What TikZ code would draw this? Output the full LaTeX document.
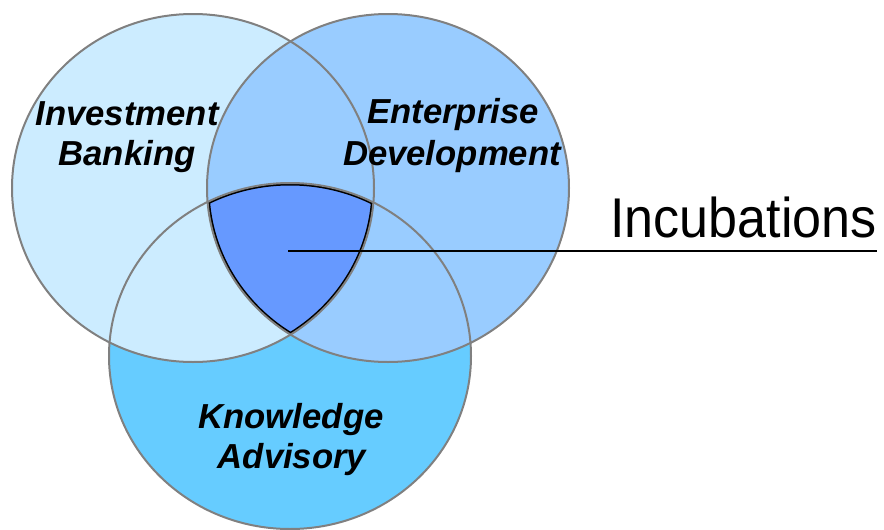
\documentclass[tikz,border=0pt]{standalone}
\usepackage{fontspec}
\setmainfont{Liberation Sans}
\newfontfamily\incfont[FakeStretch=0.93]{Liberation Sans}
\definecolor{cIB}{HTML}{CCECFF}
\definecolor{cED}{HTML}{99CCFF}
\definecolor{cKA}{HTML}{66CCFF}
\definecolor{cInc}{HTML}{6699FF}
\definecolor{rim}{HTML}{808080}
\tikzset{
  rimline/.style={draw=rim, line width=2pt},
  setlabel/.style={anchor=base, inner sep=0pt, font=\fontsize{34.7}{40}\selectfont\bfseries\itshape},
  biglabel/.style={anchor=base west, inner sep=0pt, font=\incfont\fontsize{56}{56}\selectfont},
}
\begin{document}
\begin{tikzpicture}[x=1pt,y=-1pt]
\useasboundingbox (0,0) rectangle (884,530);
\def\cIBpath{(193,188) ellipse [x radius=181pt, y radius=174pt]}
\def\cEDpath{(388,188) ellipse [x radius=181pt, y radius=174pt]}
\def\cKApath{(290,356) ellipse [x radius=181pt, y radius=173pt]}
% fills
\fill[cKA] \cKApath;
\fill[cIB] \cIBpath;
\fill[cED] \cEDpath;
% central intersection
\begin{scope}
  \clip \cIBpath;
  \clip \cEDpath;
  \clip \cKApath;
  \fill[cInc] (0,0) rectangle (884,530);
  \draw[black, line width=5pt] \cIBpath;
  \draw[black, line width=5pt] \cEDpath;
  \draw[black, line width=5pt] \cKApath;
\end{scope}
% outlines
\draw[rimline] \cKApath;
\draw[rimline] \cIBpath;
\draw[rimline] \cEDpath;
% pointer line
\coordinate (center) at (288,251);
\coordinate (lineend) at (877,251);
\draw[black, line width=1.3pt] (center) -- (lineend);
% labels
\node[setlabel] (ib1) at (127,125) {Investment};
\node[setlabel] (ib2) at (127,165) {Banking};
\node[setlabel] (ed1) at (453,123) {Enterprise};
\node[setlabel] (ed2) at (452,165) {Development};
\node[setlabel] (ka1) at (291,428) {Knowledge};
\node[setlabel] (ka2) at (292,468) {Advisory};
\node[biglabel] (inc) at (610,237) {Incubations};
\end{tikzpicture}
\end{document}
